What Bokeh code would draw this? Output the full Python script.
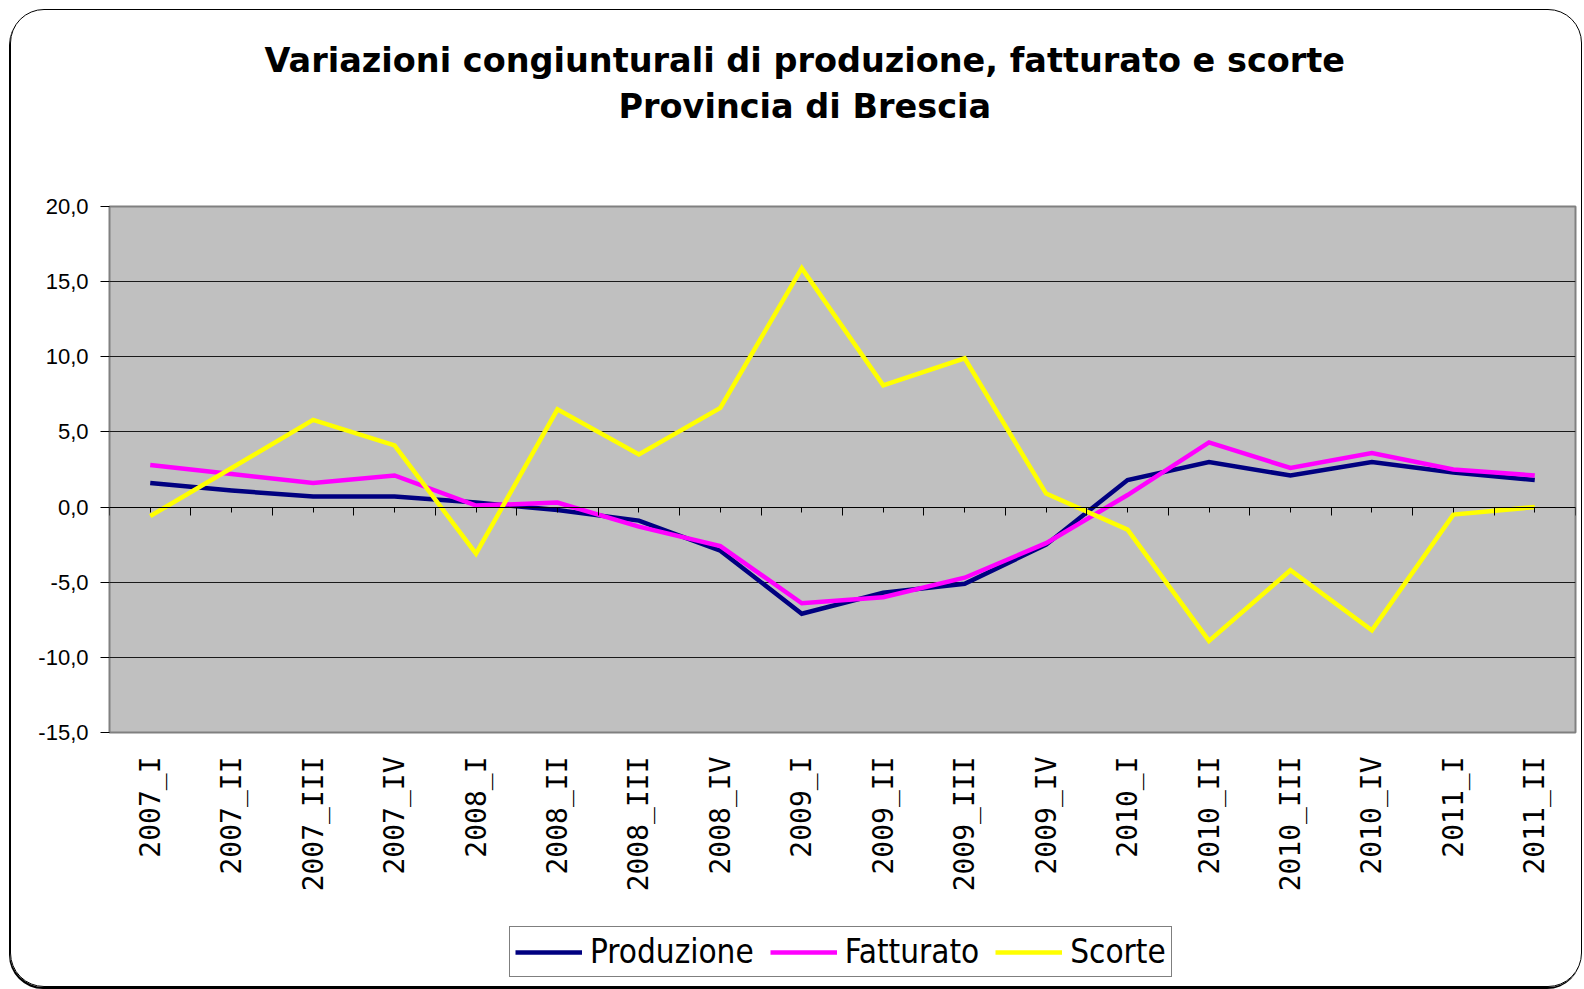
import math
from bokeh.plotting import figure
from bokeh.layouts import column
from bokeh.models import (Range1d, LinearAxis, FixedTicker, Title, Legend, LegendItem,
                          CustomJSTickFormatter)
from bokeh.embed import file_html
from bokeh.resources import INLINE

categories = ["2007_I", "2007_II", "2007_III", "2007_IV",
              "2008_I", "2008_II", "2008_III", "2008_IV",
              "2009_I", "2009_II", "2009_III", "2009_IV",
              "2010_I", "2010_II", "2010_III", "2010_IV",
              "2011_I", "2011_II"]
produzione = [1.6, 1.1, 0.7, 0.7, 0.3, -0.2, -0.9, -2.9, -7.1, -5.7, -5.1, -2.5,
              1.8, 3.0, 2.1, 3.0, 2.3, 1.8]
fatturato = [2.8, 2.2, 1.6, 2.1, 0.1, 0.3, -1.3, -2.6, -6.4, -6.0, -4.7, -2.4,
             0.8, 4.3, 2.6, 3.6, 2.5, 2.1]
scorte = [-0.6, 2.6, 5.8, 4.1, -3.1, 6.5, 3.5, 6.6, 15.9, 8.1, 9.9, 0.9,
          -1.5, -8.9, -4.2, -8.2, -0.5, 0.0]
series_names = ["Produzione", "Fatturato", "Scorte"]
series_colors = ["#000080", "#FF00FF", "#FFFF00"]
y_ticks = [-15, -10, -5, 0, 5, 10, 15, 20]
y_tick_labels = ["-15,0", "-10,0", "-5,0", "0,0", "5,0", "10,0", "15,0", "20,0"]
title_lines = ["Variazioni congiunturali di produzione, fatturato e scorte",
               "Provincia di Brescia"]

n = len(categories)
pos = list(range(n))
series_values = [produzione, fatturato, scorte]

p = figure(x_range=Range1d(-0.5, n - 0.5), y_range=Range1d(y_ticks[0], y_ticks[-1]),
           frame_width=1466, frame_height=526,
           output_backend="svg", toolbar_location=None,
           min_border_left=98, min_border_right=6, min_border_top=196,
           min_border_bottom=177)
p.border_fill_color = None
p.background_fill_color = "#C0C0C0"
p.outline_line_color = "#808080"
p.outline_line_width = 2

p.xgrid.grid_line_color = None
p.ygrid.grid_line_color = "#1a1a1a"
p.ygrid.grid_line_width = 1

# y axis
p.yaxis.ticker = FixedTicker(ticks=y_ticks)
p.yaxis.major_label_overrides = dict(zip(y_ticks, y_tick_labels))
p.yaxis.axis_line_color = None
p.yaxis.major_tick_out = 9
p.yaxis.major_tick_in = 0
p.yaxis.major_tick_line_color = "black"
p.yaxis.minor_tick_line_color = None
p.yaxis.major_label_standoff = 12
p.yaxis.major_label_text_font = "Liberation Sans"
p.yaxis.major_label_text_font_size = "22px"
p.yaxis.major_label_text_color = "black"

# x axis (labels only)
p.xaxis.ticker = FixedTicker(ticks=pos)
p.xaxis.major_label_overrides = dict(zip(pos, categories))
p.xaxis.axis_line_color = None
p.xaxis.major_tick_line_color = None
p.xaxis.major_tick_out = 0
p.xaxis.major_tick_in = 0
p.xaxis.minor_tick_line_color = None
p.xaxis.major_label_orientation = math.pi / 2
p.xaxis.major_label_standoff = 24
p.xaxis.major_label_text_font = "DejaVu Sans Mono"
p.xaxis.major_label_text_font_size = "28px"
p.xaxis.major_label_text_color = "black"

# tick axis crossing at y = 0
tick_axis = LinearAxis(fixed_location=0,
                       ticker=FixedTicker(ticks=[i - 0.5 for i in range(n + 1)],
                                          minor_ticks=pos),
                       formatter=CustomJSTickFormatter(code="return ''"),
                       major_label_standoff=0, major_label_text_font_size="2px",
                       major_tick_out=8, major_tick_in=0,
                       minor_tick_out=5, minor_tick_in=0,
                       axis_line_color="black", major_tick_line_color="black",
                       minor_tick_line_color="black")
p.add_layout(tick_axis, "below")

for vals, col in zip(series_values, series_colors):
    p.line(pos, vals, line_color=col, line_width=4.5, line_join="miter")

# titles: spacer nearest the frame, then line 2, then line 1
title_font = dict(text_font="DejaVu Sans", text_font_style="bold",
                  text_font_size="33.5px", text_color="black", align="left")
p.add_layout(Title(text=" ", text_font_size="10px", standoff=68), "above")
p.add_layout(Title(text=title_lines[1], standoff=0, offset=509, **title_font), "above")
p.add_layout(Title(text=title_lines[0], standoff=9, offset=155, **title_font), "above")

# legend strip below the chart (its lines lie outside its own view ranges)
q = figure(width=1570, height=77, output_backend="svg", toolbar_location=None,
           x_range=Range1d(-3, -2), y_range=Range1d(-30, -29),
           x_axis_location=None, y_axis_location=None, min_border=0)
q.outline_line_color = None
q.border_fill_color = None
q.background_fill_color = None
q.grid.visible = False
legend_renderers = [q.line(pos, vals, line_color=col, line_width=4.5)
                    for vals, col in zip(series_values, series_colors)]
legend = Legend(items=[LegendItem(label=nm, renderers=[r])
                       for nm, r in zip(series_names, legend_renderers)],
                orientation="horizontal", location=(400, 9),
                glyph_width=67, glyph_height=30, label_standoff=8, spacing=16,
                padding=5, margin=0,
                label_text_font="DejaVu Sans Condensed", label_text_font_size="33px",
                label_text_color="black",
                border_line_color="black", border_line_width=1,
                background_fill_color="white", background_fill_alpha=1)
q.add_layout(legend)

layout = column(p, q, spacing=0)
layout.styles = {"border": "1.5px solid #000", "border-radius": "34px",
                 "overflow": "hidden", "box-shadow": "-1px 2px 0px #000",
                 "margin": "9px 0px 0px 10px", "width": "fit-content"}

open("out.html", "w").write(file_html(layout, INLINE))
